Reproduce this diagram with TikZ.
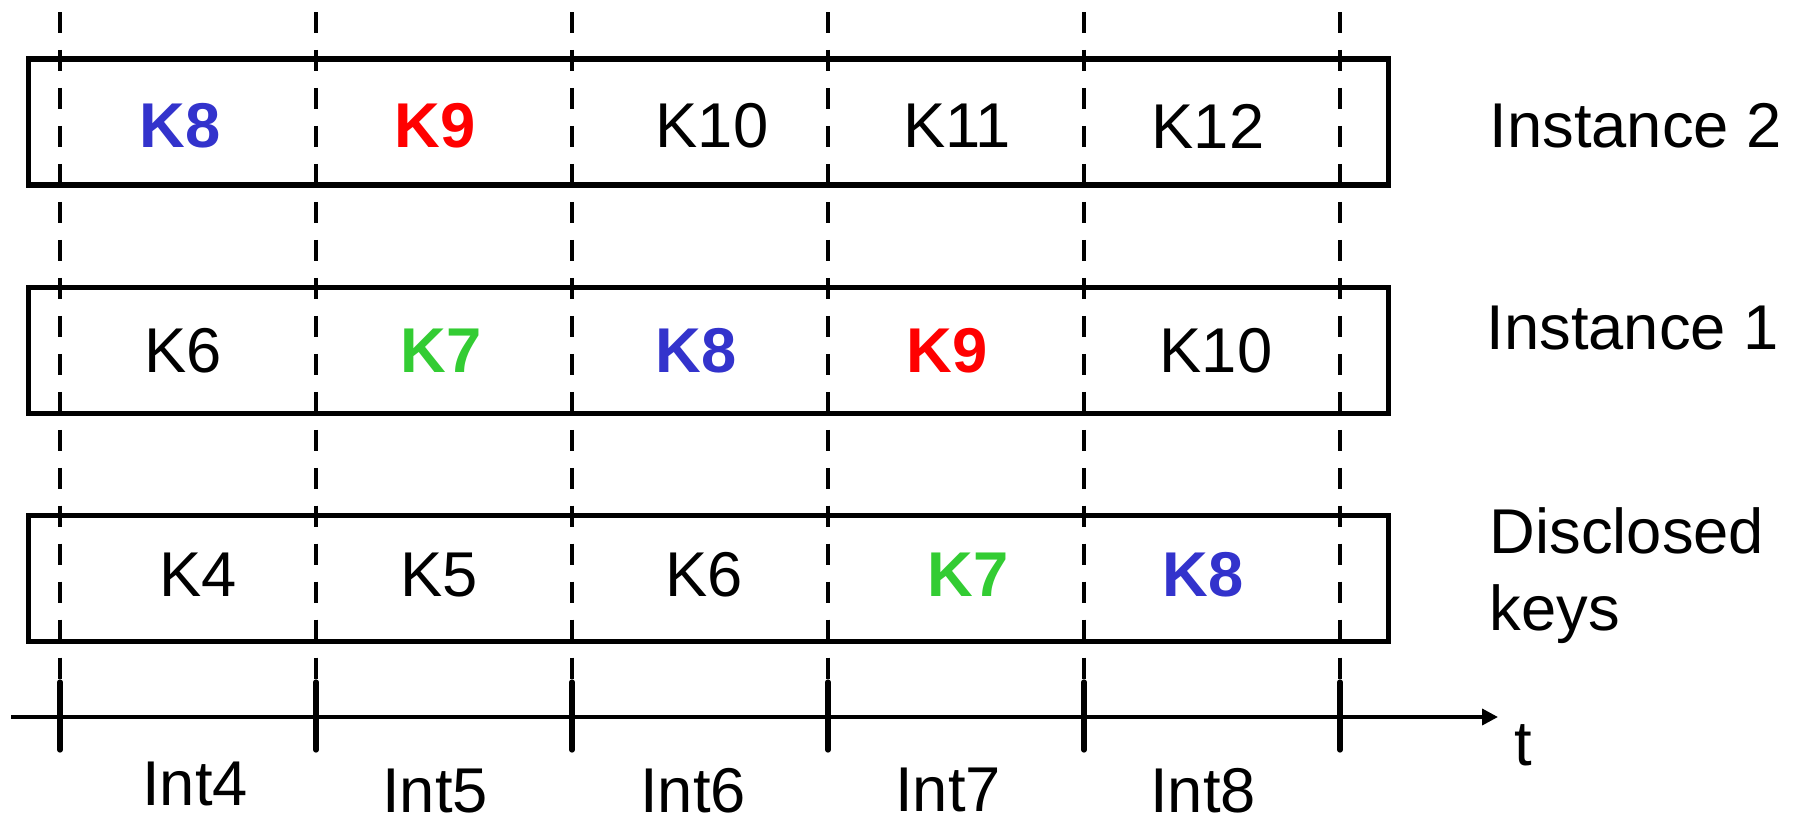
\documentclass[tikz,border=0pt]{standalone}
\usepackage{fontspec}
\setmainfont{Liberation Sans}
\usepackage{xcolor}
\usetikzlibrary{arrows.meta, positioning}
\definecolor{keyblue}{RGB}{51,51,204}
\definecolor{keyred}{RGB}{255,0,0}
\definecolor{keygreen}{RGB}{51,204,51}

\begin{document}
\begin{tikzpicture}[
    x=0.01cm, y=0.01cm,
    node distance=0.97cm,
    keyrow/.style={rectangle, draw=black, line width=1.5pt, minimum width=13.59cm, minimum height=1.26cm, inner sep=0pt},
    keytxt/.style={inner sep=0pt, font=\fontsize{18}{21}\selectfont},
    hotkey/.style={inner sep=0pt, font=\fontsize{18}{21}\selectfont\bfseries},
    sidelbl/.style={inner sep=0pt, align=left, font=\fontsize{18}{22}\selectfont},
    bound/.style={line width=1.1pt, dash pattern=on 6pt off 4.8pt},
    tickmark/.style={line width=1.5pt, line cap=round},
    timeaxis/.style={-{Triangle[length=4.5pt,width=4.5pt]}, line width=1.05pt}
]
    \useasboundingbox (0,0) rectangle (1796,823);

    % interval boundaries
    \draw[bound] (60,811) -- (60,141);
    \draw[bound] (316,811) -- (316,141);
    \draw[bound] (572,811) -- (572,141);
    \draw[bound] (828,811) -- (828,141);
    \draw[bound] (1084,811) -- (1084,141);
    \draw[bound] (1340,811) -- (1340,141);

    % key chains
    \node (inst2) [keyrow] at (708.5,701) {};
    \node (inst1) [keyrow, below=of inst2] {};
    \node (disc) [keyrow, below=of inst1] {};

    \node (i2k8) [hotkey, text=keyblue] at (180,697) {K8};
    \node (i2k9) [hotkey, text=keyred] at (435,697) {K9};
    \node (i2k10) [keytxt] at (712,697) {K10};
    \node (i2k11) [keytxt] at (957,697) {K11};
    \node (i2k12) [keytxt] at (1208,697) {K12};

    \node (i1k6) [keytxt] at (183,472) {K6};
    \node (i1k7) [hotkey, text=keygreen] at (441,472) {K7};
    \node (i1k8) [hotkey, text=keyblue] at (696,472) {K8};
    \node (i1k9) [hotkey, text=keyred] at (947,472) {K9};
    \node (i1k10) [keytxt] at (1216,472) {K10};

    \node (dk4) [keytxt] at (198,248) {K4};
    \node (dk5) [keytxt] at (439,248) {K5};
    \node (dk6) [keytxt] at (704,248) {K6};
    \node (dk7) [hotkey, text=keygreen] at (968,248) {K7};
    \node (dk8) [hotkey, text=keyblue] at (1203,248) {K8};

    \node (lbl2) [sidelbl, anchor=west] at (1489,697) {Instance 2};
    \node (lbl1) [sidelbl, anchor=west] at (1486,495) {Instance 1};
    \node (lbld) [sidelbl, anchor=north west] at (1489,316) {Disclosed\\keys};

    % time axis
    \coordinate (tstart) at (11,106);
    \coordinate (tend) at (1498,106);
    \draw[timeaxis] (tstart) -- (tend);
    \node (tlbl) [keytxt] at (1523,78) {t};

    \draw[tickmark] (60,141) -- (60,73);
    \draw[tickmark] (316,141) -- (316,73);
    \draw[tickmark] (572,141) -- (572,73);
    \draw[tickmark] (828,141) -- (828,73);
    \draw[tickmark] (1084,141) -- (1084,73);
    \draw[tickmark] (1340,141) -- (1340,73);

    \node (int4) [keytxt] at (195,39) {Int4};
    \node (int5) [keytxt] at (435,32) {Int5};
    \node (int6) [keytxt] at (693,32) {Int6};
    \node (int7) [keytxt] at (948,33) {Int7};
    \node (int8) [keytxt] at (1203,32) {Int8};
\end{tikzpicture}
\end{document}
